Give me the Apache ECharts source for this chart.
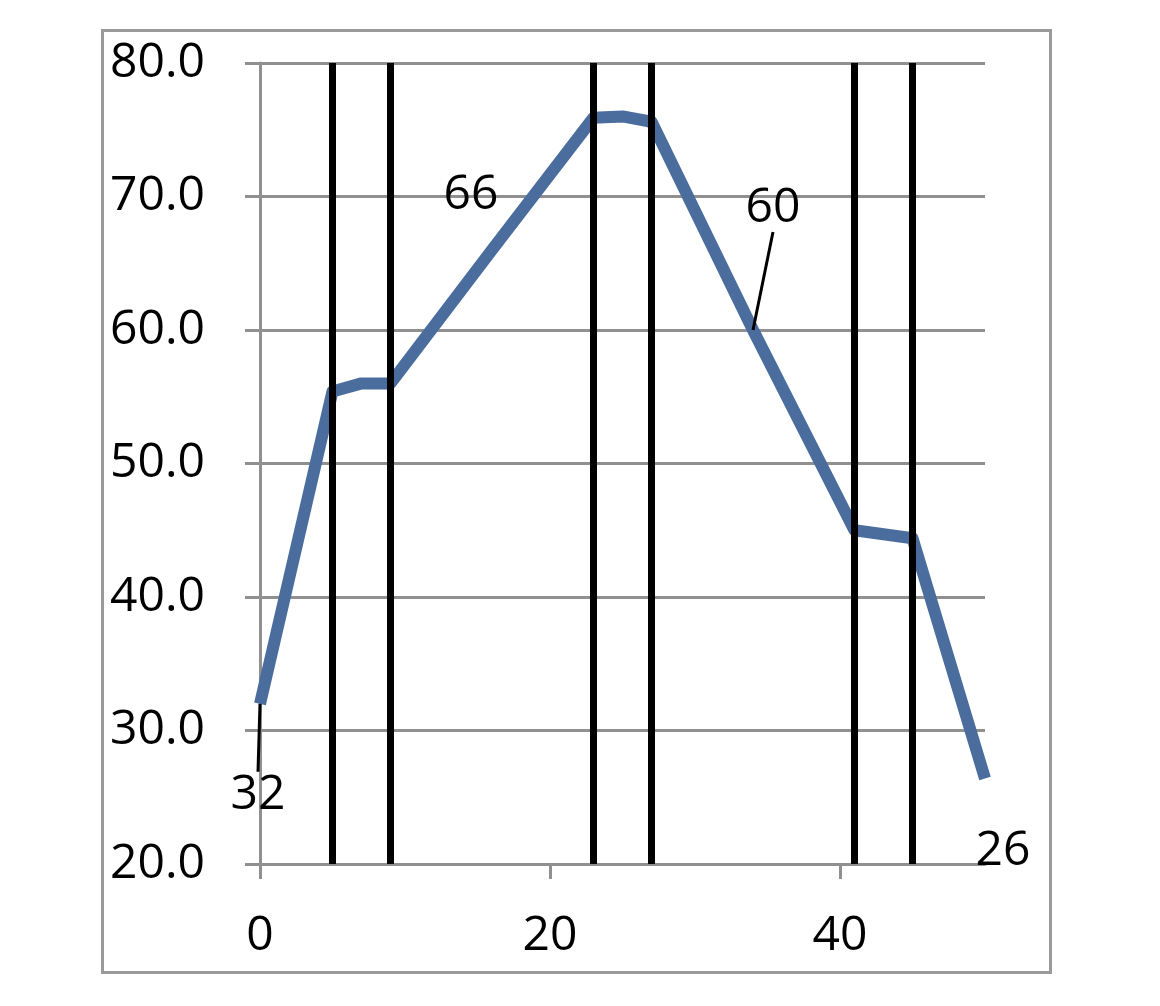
<!DOCTYPE html>
<html>
<head>
<meta charset="utf-8">
<script src="https://cdn.jsdelivr.net/npm/echarts@6/dist/echarts.min.js"></script>
<style>html,body{margin:0;padding:0;background:#fff;}#c{width:1160px;height:1006px;}</style>
</head>
<body>
<div id="c"></div>
<script>
// Data
const xValues = [0, 5, 7, 9, 16, 23, 25, 27, 34, 41, 45, 50];
const yValues = [32, 55.4, 56, 56, 66, 75.9, 76, 75.6, 60, 45.0, 44.4, 26.4];
const labelledIndex = [0, 4, 8, 11];
const leaderIndex = [0, 8];
const verticalMarkers = [5, 9, 23, 27, 41, 45];
const xTickValues = [0, 20, 40];

const FONT = 'Open Sans';
const FS = 48;
const labelOffsets = { 0: [-2, 92], 4: [-21, -55], 8: [20, -122], 11: [18, 73] };

const seriesData = xValues.map((x, i) => {
  const item = { value: [x, yValues[i]] };
  if (labelledIndex.includes(i)) {
    item.label = { show: true };
    item.labelLine = { show: leaderIndex.includes(i) };
  }
  return item;
});

const chart = echarts.init(document.getElementById('c'));
chart.setOption({
  animation: false,
  backgroundColor: '#ffffff',
  grid: { left: 260, right: 175, top: 63, bottom: 142, containLabel: false },
  graphic: [{
    type: 'rect', left: 100, top: 28, z: -10,
    shape: { width: 948, height: 942 },
    style: { fill: 'none', stroke: '#9a9a9a', lineWidth: 3 }
  }],
  xAxis: {
    type: 'value', min: 0, max: 50, interval: 20,
    axisLine: { show: true, onZero: false, lineStyle: { color: '#909090', width: 3 } },
    axisTick: { show: true, length: 15, customValues: xTickValues, lineStyle: { color: '#909090', width: 3 } },
    axisLabel: { customValues: xTickValues, color: '#000', fontSize: FS, fontFamily: FONT, margin: 48 },
    splitLine: { show: false }
  },
  yAxis: {
    type: 'value', min: 20, max: 80, interval: 10,
    axisLine: { show: true, lineStyle: { color: '#909090', width: 3 } },
    axisTick: { show: true, length: 15, lineStyle: { color: '#909090', width: 3 } },
    axisLabel: { color: '#000', fontSize: FS, fontFamily: FONT, margin: 55,
      formatter: v => v.toFixed(1) },
    splitLine: { show: true, lineStyle: { color: '#909090', width: 3 } }
  },
  series: [{
    type: 'line',
    data: seriesData,
    symbol: 'circle', symbolSize: 0.1, showSymbol: true,
    lineStyle: { color: '#4a6d9e', width: 12, cap: 'butt', join: 'round' },
    itemStyle: { color: '#4a6d9e' },
    label: {
      show: false, position: 'inside', color: '#000', fontSize: FS, fontFamily: FONT,
      formatter: p => Math.round(p.value[1]).toString()
    },
    labelLine: { show: false, lineStyle: { color: '#000', width: 3 } },
    labelLayout: function (params) {
      const o = labelOffsets[params.dataIndex];
      return o ? { dx: o[0], dy: o[1] } : {};
    },
    z: 2
  }, {
    type: 'line', data: [], z: 5,
    markLine: {
      silent: true, symbol: 'none', animation: false,
      label: { show: false },
      lineStyle: { color: '#000', width: 7, type: 'solid' },
      data: verticalMarkers.map(v => ({ xAxis: v }))
    }
  }]
});
</script>
</body>
</html>
